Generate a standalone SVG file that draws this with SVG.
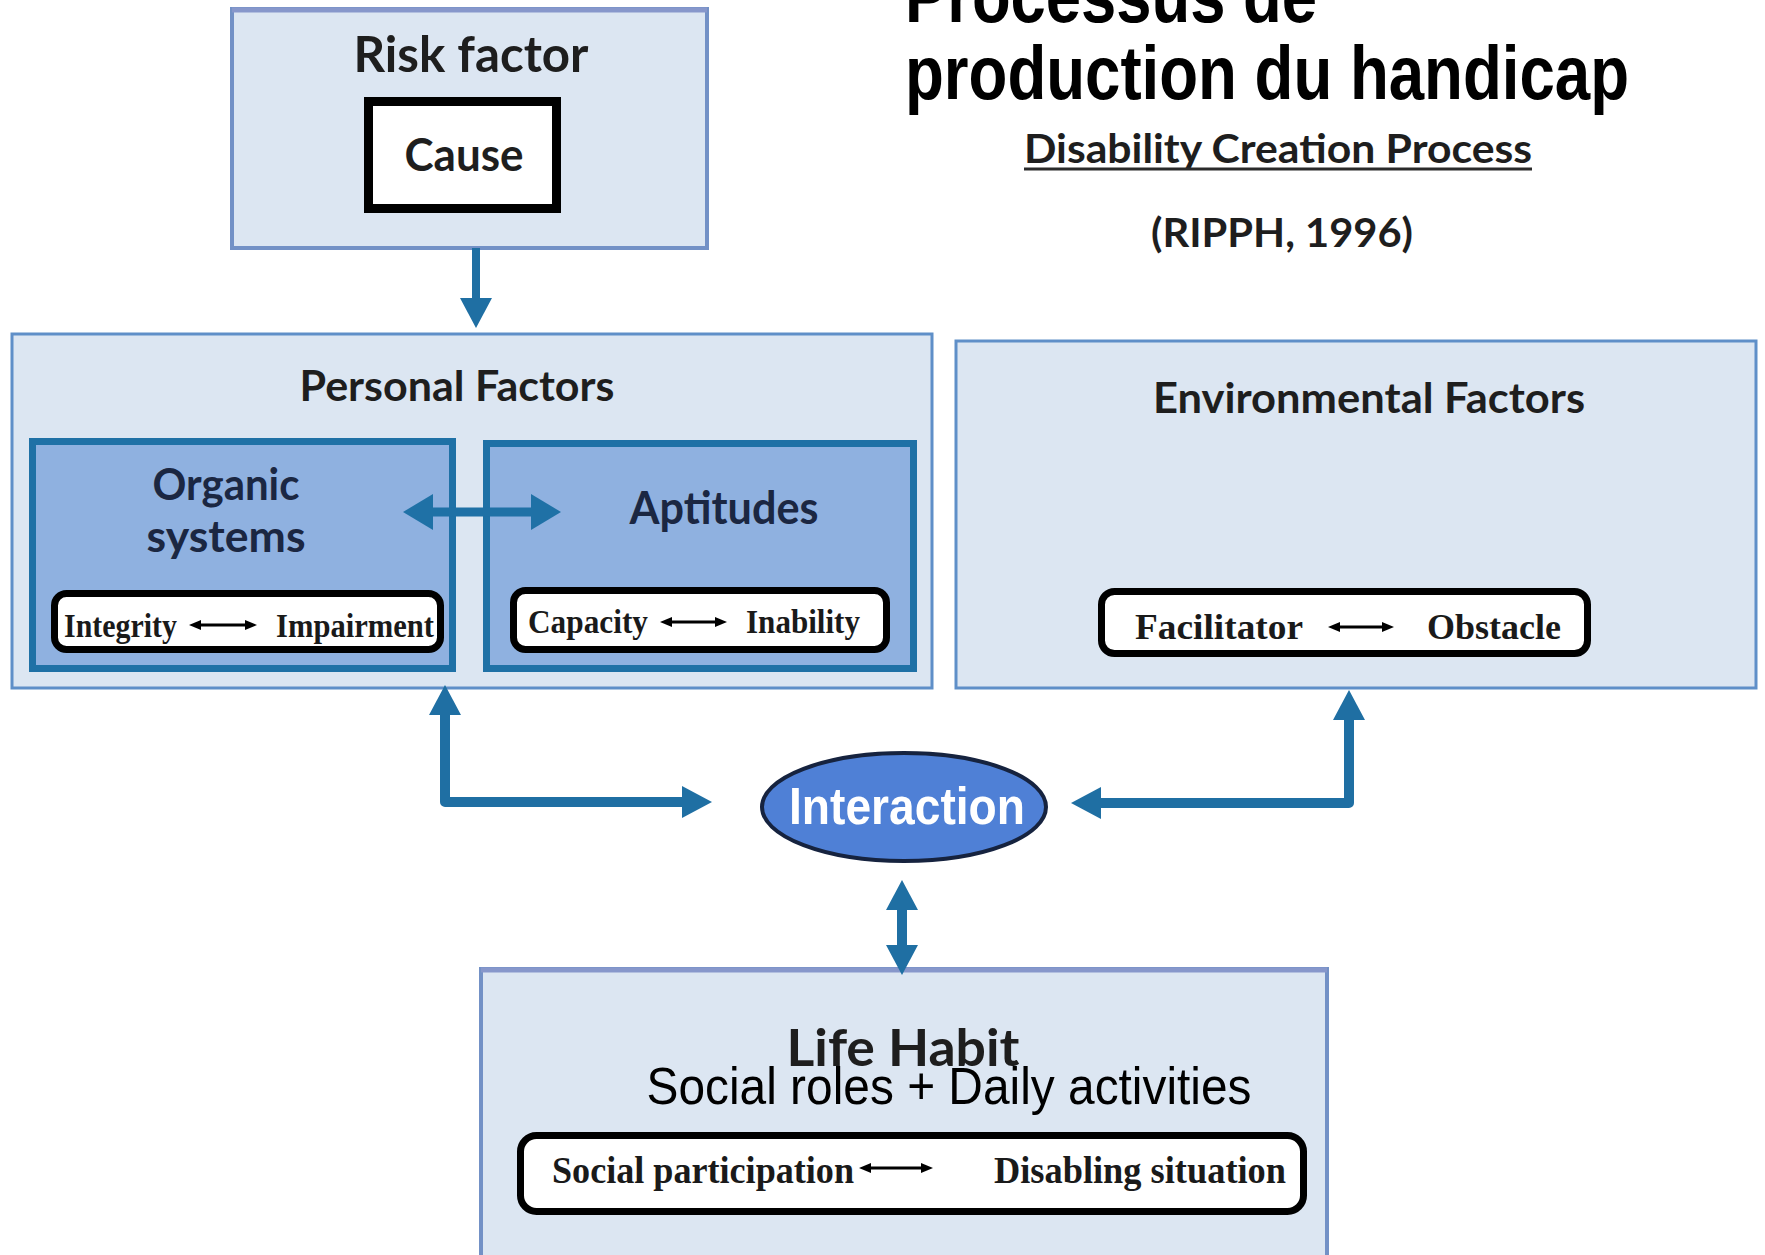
<svg xmlns="http://www.w3.org/2000/svg" width="1765" height="1255" viewBox="0 0 1765 1255">
<defs>
<style>
.outer{fill:#dce6f2;stroke:#7391c6;stroke-width:4}
.inner{fill:#8fb1e0;stroke:#1f71a6;stroke-width:7}
.pill{fill:#ffffff;stroke:#000000;stroke-width:7}
.h{font-family:Lato,"Open Sans",sans-serif;font-weight:bold;fill:#1e1e1e}
.hn{font-family:Lato,"Open Sans",sans-serif;font-weight:bold;fill:#1b2742}
.ser{font-family:"Liberation Serif","Times New Roman",serif;font-weight:bold;fill:#1a1a1a;font-size:33px}
.title{font-family:"Liberation Sans",Arial,sans-serif;font-weight:bold;fill:#000;font-size:76px}
.conn{fill:none;stroke:#1f6fa3;stroke-width:10;stroke-linejoin:round}
.sml{stroke:#000;stroke-width:3}
</style>
<marker id="ah" viewBox="0 0 30 32" refX="1" refY="16" markerWidth="30" markerHeight="32" markerUnits="userSpaceOnUse" orient="auto-start-reverse"><path d="M0,0 L30,16 L0,32 z" fill="#1f6fa3"/></marker>
<marker id="ahb" viewBox="0 0 30 36" refX="1" refY="18" markerWidth="30" markerHeight="36" markerUnits="userSpaceOnUse" orient="auto-start-reverse"><path d="M0,0 L30,18 L0,36 z" fill="#1f71a6"/></marker>
<marker id="sa" viewBox="0 0 12 10" refX="1" refY="5" markerWidth="12" markerHeight="10" markerUnits="userSpaceOnUse" orient="auto-start-reverse"><path d="M0,0 L12,5 L0,10 z" fill="#000"/></marker>
</defs>
<rect x="0" y="0" width="1765" height="1255" fill="#ffffff"/>

<g id="title">
<text class="title" x="905" y="22" textLength="412" lengthAdjust="spacingAndGlyphs">Processus de</text>
<text class="title" x="905" y="99" textLength="724" lengthAdjust="spacingAndGlyphs">production du handicap</text>
<text class="h" x="1278" y="163" font-size="40" text-anchor="middle" textLength="508" lengthAdjust="spacingAndGlyphs" fill="#2a2a2a">Disability Creation Process</text>
<line x1="1024" y1="169" x2="1532" y2="169" stroke="#2a2a2a" stroke-width="3"/>
<text class="h" x="1282" y="247" font-size="40" text-anchor="middle" textLength="262" lengthAdjust="spacingAndGlyphs" fill="#2a2a2a">(RIPPH, 1996)</text>
</g>

<g id="risk-factor">
<rect class="outer" x="232" y="9" width="475" height="239"/>
<line x1="232" y1="10" x2="707" y2="10" stroke="#8797cb" stroke-width="5"/>
<text class="h" x="471" y="72" font-size="50" text-anchor="middle" textLength="235" lengthAdjust="spacingAndGlyphs">Risk factor</text>
<rect x="368.5" y="101.5" width="188" height="107" fill="#fff" stroke="#000" stroke-width="9"/>
<text class="h" x="464" y="171" font-size="46" text-anchor="middle" textLength="119" lengthAdjust="spacingAndGlyphs">Cause</text>
</g>

<g id="personal-factors">
<rect class="outer" x="12" y="334" width="920" height="354" style="stroke:#5f8fc8;stroke-width:3"/>
<text class="h" x="457" y="401" font-size="42" text-anchor="middle" textLength="315" lengthAdjust="spacingAndGlyphs">Personal Factors</text>
</g>

<g id="organic-systems">
<rect class="inner" x="32.5" y="441.5" width="420" height="227"/>
<text class="hn" x="226" y="500" font-size="44" text-anchor="middle" textLength="147" lengthAdjust="spacingAndGlyphs">Organic</text>
<text class="hn" x="226" y="552" font-size="44" text-anchor="middle" textLength="159" lengthAdjust="spacingAndGlyphs">systems</text>
<rect class="pill" x="54.5" y="593.5" width="386" height="56" rx="12"/>
<text class="ser" x="64" y="637" textLength="113" lengthAdjust="spacingAndGlyphs">Integrity</text>
<line class="sml" x1="200" y1="625" x2="246" y2="625" marker-start="url(#sa)" marker-end="url(#sa)"/>
<text class="ser" x="276" y="637" textLength="158" lengthAdjust="spacingAndGlyphs">Impairment</text>
</g>

<g id="aptitudes">
<rect class="inner" x="486.5" y="443.5" width="427" height="225"/>
<text class="hn" x="724" y="524" font-size="46" text-anchor="middle" textLength="189" lengthAdjust="spacingAndGlyphs">Aptitudes</text>
<rect class="pill" x="513.5" y="590.5" width="373" height="59" rx="12"/>
<text class="ser" x="528" y="633" textLength="120" lengthAdjust="spacingAndGlyphs">Capacity</text>
<line class="sml" x1="671" y1="622" x2="716" y2="622" marker-start="url(#sa)" marker-end="url(#sa)"/>
<text class="ser" x="746" y="633" textLength="114" lengthAdjust="spacingAndGlyphs">Inability</text>
</g>

<g id="environmental-factors">
<rect class="outer" x="956" y="341" width="800" height="347" style="stroke:#5f8fc8;stroke-width:3"/>
<text class="h" x="1369" y="413" font-size="42" text-anchor="middle" textLength="432" lengthAdjust="spacingAndGlyphs">Environmental Factors</text>
<rect class="pill" x="1101.5" y="591.5" width="486" height="62" rx="13"/>
<text class="ser" x="1135" y="639" textLength="168" lengthAdjust="spacingAndGlyphs" style="font-size:35px">Facilitator</text>
<line class="sml" x1="1339" y1="627" x2="1383" y2="627" marker-start="url(#sa)" marker-end="url(#sa)"/>
<text class="ser" x="1427" y="639" textLength="134" lengthAdjust="spacingAndGlyphs" style="font-size:35px">Obstacle</text>
</g>

<g id="interaction">
<ellipse cx="904" cy="807" rx="142" ry="54" fill="#4f80d6" stroke="#16233f" stroke-width="4"/>
<text x="907" y="824" font-family="'Liberation Sans',Arial,sans-serif" font-weight="bold" font-size="52" fill="#ffffff" text-anchor="middle" textLength="236" lengthAdjust="spacingAndGlyphs">Interaction</text>
</g>

<g id="life-habit">
<rect class="outer" x="481" y="969" width="846" height="300"/>
<line x1="481" y1="970" x2="1327" y2="970" stroke="#8797cb" stroke-width="5"/>
<text class="h" x="903" y="1066" font-size="52" text-anchor="middle" textLength="233" lengthAdjust="spacingAndGlyphs">Life Habit</text>
<text x="949" y="1104" font-family="'Liberation Sans',Arial,sans-serif" font-size="52" fill="#000" text-anchor="middle" textLength="605" lengthAdjust="spacingAndGlyphs">Social roles + Daily activities</text>
<rect class="pill" x="520.5" y="1135.5" width="783" height="76" rx="16"/>
<text class="ser" x="552" y="1183" textLength="302" lengthAdjust="spacingAndGlyphs" style="font-size:37px">Social participation</text>
<line class="sml" x1="870" y1="1168" x2="922" y2="1168" marker-start="url(#sa)" marker-end="url(#sa)"/>
<text class="ser" x="994" y="1183" textLength="292" lengthAdjust="spacingAndGlyphs" style="font-size:37px">Disabling situation</text>
</g>

<g id="connectors">
<path class="conn" d="M476,248 L476,299" style="stroke-width:8" marker-end="url(#ah)"/>
<path class="conn" d="M432,512 L532,512" style="stroke:#1f71a6;stroke-width:9" marker-start="url(#ahb)" marker-end="url(#ahb)"/>
<path class="conn" d="M445,714 L445,802 L683,802" marker-start="url(#ah)" marker-end="url(#ah)"/>
<path class="conn" d="M1349,719 L1349,803 L1100,803" marker-start="url(#ah)" marker-end="url(#ah)"/>
<path class="conn" d="M902,909 L902,946" marker-start="url(#ah)" marker-end="url(#ah)"/>
</g>
</svg>
